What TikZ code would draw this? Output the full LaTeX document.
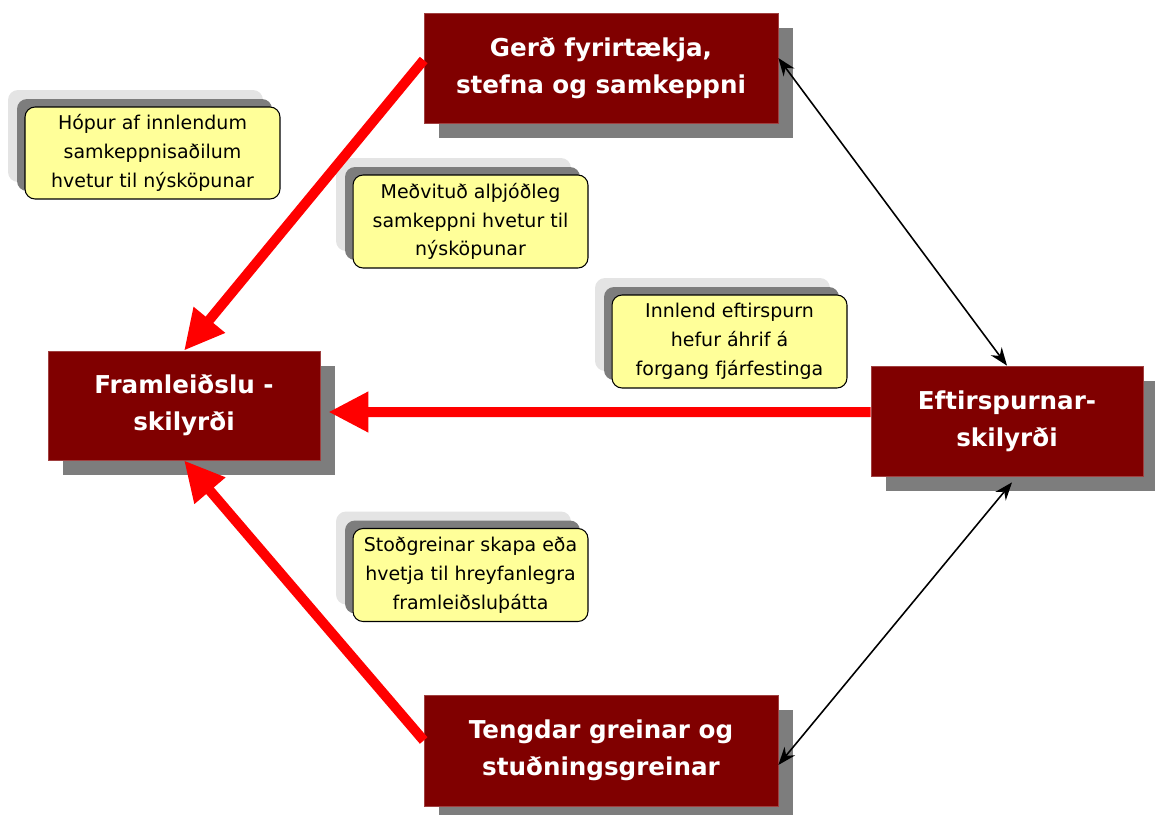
\documentclass[tikz,border=0pt]{standalone}
\usepackage{fontspec}
\setmainfont{DejaVu Sans}
\usetikzlibrary{arrows.meta,shadows}
\definecolor{boxred}{RGB}{128,0,0}
\definecolor{noteyellow}{RGB}{255,255,153}
\definecolor{shadowgray}{RGB}{125,125,125}
\definecolor{palegray}{RGB}{228,228,228}
\tikzset{
  factor/.style={fill=boxred, draw=boxred!75!white, thin, text=white,
    font=\fontsize{14}{21}\selectfont\bfseries, align=center, inner sep=0pt,
    general shadow={fill=shadowgray, shadow xshift=0.3cm, shadow yshift=-0.3cm}},
  note/.style={fill=noteyellow, draw=black, line width=0.6pt, rounded corners=0.2cm,
    align=center, font=\fontsize{10.8}{16.4}\selectfont, inner sep=0pt,
    minimum width=4.7cm, minimum height=1.86cm,
    general shadow={fill=palegray, shadow xshift=-0.34cm, shadow yshift=0.34cm},
    general shadow={fill=shadowgray, shadow xshift=-0.16cm, shadow yshift=0.16cm}},
  push/.style={draw=red, line width=0.2cm, -{Triangle[length=0.8cm,width=0.76cm]}},
  link/.style={draw=black, line width=0.9pt,
    {Stealth[length=0.36cm,width=0.27cm]}-{Stealth[length=0.36cm,width=0.27cm]}},
}

\begin{document}
\begin{tikzpicture}[x=0.02cm, y=-0.02cm]
			%%%%% START %%%%%
			\useasboundingbox (0, 0) rectangle (1155, 814);
			
			% the four factor boxes
			\node[factor, minimum width=7.08cm, minimum height=2.2cm] (gerd) at (601, 68) {Gerð fyrirtækja,\\stefna og samkeppni};
			\node[factor, minimum width=5.44cm, minimum height=2.18cm] (fram) at (184, 405.5) {Framleiðslu -\\skilyrði};
			\node[factor, minimum width=5.44cm, minimum height=2.2cm] (eft) at (1007, 421) {Eftirspurnar-\\skilyrði};
			\node[factor, minimum width=7.08cm, minimum height=2.22cm] (teng) at (601, 750.5) {Tengdar greinar og\\stuðningsgreinar};
			
			% notes
			\node[note, minimum width=5.1cm, minimum height=1.84cm] (hopur) at (152.5, 153) {Hópur af innlendum\\samkeppnisaðilum\\hvetur til nýsköpunar};
			\node[note] (medvitud) at (470.5, 221.5) {Meðvituð alþjóðleg\\samkeppni hvetur til\\nýsköpunar};
			\node[note] (innlend) at (729.5, 341.5) {Innlend eftirspurn\\hefur áhrif á\\forgang fjárfestinga};
			\node[note] (stod) at (470.5, 575) {Stoðgreinar skapa eða\\hvetja til hreyfanlegra\\framleiðsluþátta};
			
			% red arrows into Framleiðsluskilyrði
			\draw[push] ([yshift=0.16cm]gerd.west) -- (fram.north);
			\draw[push] ([yshift=0.18cm]eft.west) -- ([xshift=0.16cm, yshift=-0.13cm]fram.east);
			\draw[push] ([yshift=0.2cm]teng.west) -- (fram.south);
			
			% black two-way links
			\draw[link] ([yshift=0.2cm]gerd.east) -- (eft.north);
			\draw[link] ([xshift=0.1cm, yshift=-0.12cm]eft.south) -- ([yshift=-0.29cm]teng.east);
			
			%%%%% END %%%%%
\end{tikzpicture}
\end{document}
